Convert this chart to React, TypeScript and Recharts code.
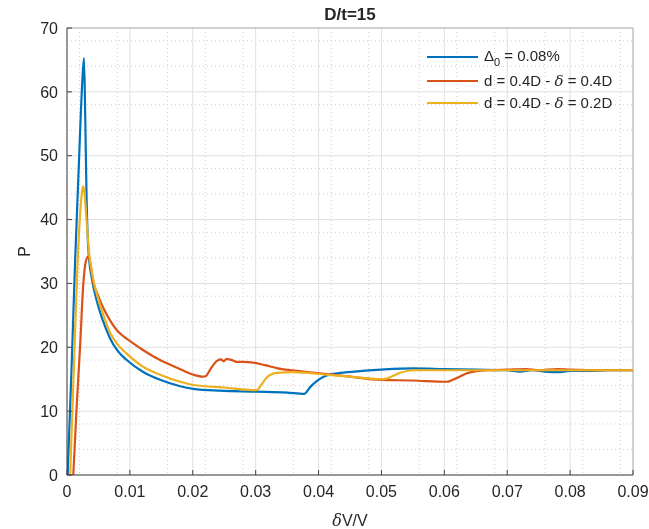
import { LineChart, Line, XAxis, YAxis, CartesianGrid, ReferenceLine, Legend } from "recharts"

// sampled from the plot: x = δV/V, p = P
const BLUE_X = [0.0001, 0.0007, 0.0013, 0.0019, 0.0024, 0.0027, 0.0029, 0.0031, 0.0033, 0.0035, 0.004, 0.0047, 0.0057, 0.0068, 0.008, 0.0095, 0.012, 0.0148, 0.018, 0.0201, 0.0243, 0.03, 0.035, 0.0377, 0.0387, 0.0397, 0.0408, 0.0422, 0.0435, 0.047, 0.05, 0.055, 0.06, 0.065, 0.07, 0.072, 0.074, 0.076, 0.078, 0.08, 0.083, 0.086, 0.09]
const BLUE_P = [0, 16, 33.7, 49, 61, 65.3, 56, 44, 37, 34, 30.5, 27.4, 24.2, 21.5, 19.5, 18.0, 16.2, 14.9, 13.9, 13.5, 13.2, 13.05, 12.9, 12.7, 13.8, 14.7, 15.4, 15.8, 16.0, 16.3, 16.5, 16.7, 16.6, 16.5, 16.4, 16.2, 16.4, 16.2, 16.1, 16.3, 16.3, 16.4, 16.4]

const ORANGE_X = [0.001, 0.0015, 0.0021, 0.0026, 0.003, 0.0034, 0.0037, 0.0042, 0.0047, 0.0057, 0.0068, 0.008, 0.009, 0.01, 0.0122, 0.0148, 0.0175, 0.0201, 0.0217, 0.0221, 0.0227, 0.0234, 0.0239, 0.0245, 0.0249, 0.0254, 0.0258, 0.0265, 0.027, 0.028, 0.0296, 0.0315, 0.0335, 0.0357, 0.0376, 0.0413, 0.045, 0.0498, 0.055, 0.0604, 0.062, 0.0635, 0.0647, 0.067, 0.07, 0.073, 0.075, 0.078, 0.08, 0.085, 0.09]
const ORANGE_P = [0, 10, 20.5, 30, 33.5, 34.2, 33.2, 30, 28.7, 26.3, 24.3, 22.6, 21.7, 21.0, 19.5, 18.0, 16.8, 15.7, 15.4, 15.5, 16.4, 17.4, 17.9, 18.1, 17.8, 18.2, 18.1, 17.9, 17.7, 17.7, 17.6, 17.2, 16.7, 16.4, 16.2, 15.8, 15.4, 14.9, 14.8, 14.6, 15.2, 15.9, 16.2, 16.4, 16.5, 16.6, 16.4, 16.6, 16.5, 16.4, 16.4]

const YELLOW_X = [0.0005, 0.0011, 0.0017, 0.0021, 0.0024, 0.0026, 0.0028, 0.0031, 0.0035, 0.004, 0.0047, 0.0057, 0.0068, 0.008, 0.0095, 0.012, 0.0148, 0.018, 0.0201, 0.025, 0.0302, 0.0308, 0.0318, 0.0333, 0.036, 0.0413, 0.045, 0.0498, 0.0508, 0.0518, 0.053, 0.0551, 0.058, 0.062, 0.066, 0.07, 0.075, 0.08, 0.085, 0.09]
const YELLOW_P = [0, 17, 33.7, 41, 44.5, 45.2, 44, 40, 35, 31.5, 28.5, 25.3, 22.4, 20.5, 19.0, 17.0, 15.7, 14.6, 14.1, 13.7, 13.3, 14.0, 15.3, 16.0, 16.1, 15.7, 15.4, 15.0, 15.1, 15.5, 16.0, 16.4, 16.4, 16.4, 16.4, 16.4, 16.4, 16.4, 16.4, 16.4]

const X_TICKS = [0, 0.01, 0.02, 0.03, 0.04, 0.05, 0.06, 0.07, 0.08, 0.09]
const Y_TICKS = [0, 10, 20, 30, 40, 50, 60, 70]

const TITLE = "D/t=15"

// minor grid: 4 dotted lines between majors
const X_MINOR = X_TICKS.slice(0, -1).flatMap((t) => [1, 2, 3, 4].map((k) => +(t + k * 0.002).toFixed(4)))
const Y_MINOR = Y_TICKS.slice(0, -1).flatMap((t) => [2, 4, 6, 8].map((k) => t + k))

const toPoints = (xs: number[], ps: number[]) => xs.map((x, i) => ({ x, p: ps[i] }))

const SERIES = [
  { key: "blue", color: "#0072BD", data: toPoints(BLUE_X, BLUE_P) },
  { key: "orange", color: "#D95319", data: toPoints(ORANGE_X, ORANGE_P) },
  { key: "yellow", color: "#EDB120", data: toPoints(YELLOW_X, YELLOW_P) },
]

const FONT = '"Liberation Sans", Arial, sans-serif'
const AXIS = "#404040"
const TEXT = "#262626"

function LegendBox() {
  const rows = [
    {
      color: "#0072BD",
      top: 0,
      label: (
        <span>
          Δ<sub style={{ fontSize: 11, verticalAlign: -5 }}>0</sub> = 0.08%
        </span>
      ),
    },
    {
      color: "#D95319",
      top: 24,
      label: (
        <span>
          d = 0.4D - <i style={{ fontFamily: '"DejaVu Serif", serif' }}>δ</i> = 0.4D
        </span>
      ),
    },
    {
      color: "#EDB120",
      top: 46,
      label: (
        <span>
          d = 0.4D - <i style={{ fontFamily: '"DejaVu Serif", serif' }}>δ</i> = 0.2D
        </span>
      ),
    },
  ]
  return (
    <div style={{ position: "relative", width: 200, height: 70, fontFamily: FONT, fontSize: 15, color: TEXT }}>
      {rows.map((r, i) => (
        <div key={i} style={{ position: "absolute", left: 0, top: r.top, height: 22, display: "flex", alignItems: "center", whiteSpace: "nowrap" }}>
          <div style={{ width: 51, height: 2, background: r.color, marginRight: 6 }} />
          {r.label}
        </div>
      ))}
    </div>
  )
}

export default function App() {
  return (
    <div style={{ position: "fixed", left: 0, top: 0, width: 649, height: 529, background: "#fff" }}>
      <div
        style={{
          position: "absolute",
          top: 5,
          left: 0,
          width: 700,
          textAlign: "center",
          fontFamily: FONT,
          fontWeight: "bold",
          fontSize: 17,
          color: TEXT,
        }}
      >
        {TITLE}
      </div>
      <LineChart width={649} height={529} margin={{ top: 28, right: 16, left: 17, bottom: 14 }}>
        <CartesianGrid verticalValues={X_MINOR} horizontalValues={Y_MINOR} stroke="#cfcfcf" strokeDasharray="1 3" />
        <CartesianGrid stroke="#e0e0e0" />
        <XAxis
          type="number"
          dataKey="x"
          domain={[0, 0.09]}
          ticks={X_TICKS}
          allowDataOverflow
          height={40}
          tickFormatter={(v: number) => (v === 0 ? "0" : v.toFixed(2))}
          tick={{ fill: TEXT, fontSize: 16, fontFamily: FONT }}
          tickSize={-5}
          tickMargin={16}
          stroke={AXIS}
          label={{
            content: ({ viewBox }: any) => (
              <text
                x={viewBox.x + viewBox.width / 2}
                y={viewBox.y + 51}
                textAnchor="middle"
                fill={TEXT}
                fontSize={16}
                fontFamily={FONT}
              >
                <tspan fontStyle="italic" fontFamily='"DejaVu Serif", serif'>δ</tspan>V/V
              </text>
            ),
          }}
        />
        <YAxis
          type="number"
          domain={[0, 70]}
          ticks={Y_TICKS}
          allowDataOverflow
          width={50}
          tick={{ fill: TEXT, fontSize: 16, fontFamily: FONT }}
          tickSize={-5}
          tickMargin={14}
          stroke={AXIS}
          label={{
            content: ({ viewBox }: any) => {
              const cx = 24
              const cy = viewBox.y + viewBox.height / 2
              return (
                <text
                  x={cx}
                  y={cy}
                  transform={`rotate(-90, ${cx}, ${cy})`}
                  textAnchor="middle"
                  dominantBaseline="central"
                  fill={TEXT}
                  fontSize={16}
                  fontFamily={FONT}
                >
                  P
                </text>
              )
            },
          }}
        />
        <ReferenceLine y={70} stroke="#b0b0b0" />
        <ReferenceLine x={0.09} stroke="#b0b0b0" />
        {SERIES.map((s) => (
          <Line
            key={s.key}
            data={s.data}
            dataKey="p"
            type="monotone"
            stroke={s.color}
            strokeWidth={2.2}
            dot={false}
            activeDot={false}
            isAnimationActive={false}
          />
        ))}
        <Legend
          layout="horizontal"
          verticalAlign="middle"
          align="center"
          wrapperStyle={{ top: 46, left: 427, width: 200 }}
          content={() => <LegendBox />}
        />
      </LineChart>
    </div>
  )
}
